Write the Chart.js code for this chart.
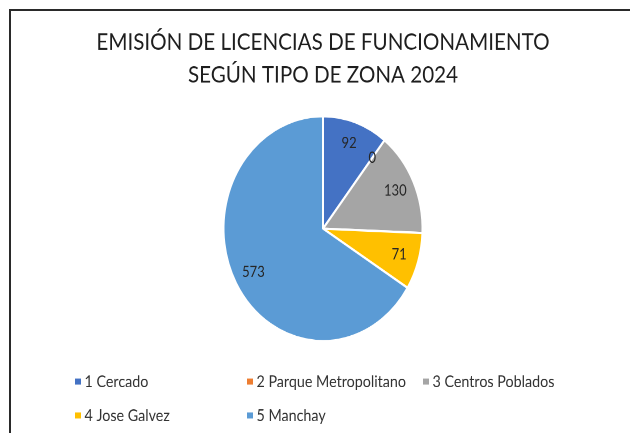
<!DOCTYPE html>
<html>
<head>
<meta charset="utf-8">
<script src="https://cdn.jsdelivr.net/npm/chart.js@4/dist/chart.umd.min.js"></script>
<style>
  html, body { margin: 0; padding: 0; background: #ffffff; width: 630px; height: 433px; overflow: hidden; }
  #frame { position: absolute; left: 9px; top: 9px; width: 640px; height: 440px;
           border-left: 2px solid #2a2a2a; border-top: 2px solid #2a2a2a; }
  #wrap { position: absolute; left: 0; top: 0; width: 630px; height: 383px;
          transform: scaleY(1.1305); transform-origin: 0 0; }
</style>
</head>
<body>
<div id="frame"></div>
<div id="wrap"><canvas id="c" width="630" height="383"></canvas></div>
<script>
const titleLines = ['EMISIÓN DE LICENCIAS DE FUNCIONAMIENTO', 'SEGÚN TIPO DE ZONA 2024'];
const categories = ['1 Cercado', '2 Parque Metropolitano', '3 Centros Poblados', '4 Jose Galvez', '5 Manchay'];
const values = [92, 0, 130, 71, 573];
const colors = ['#4472C4', '#ED7D31', '#A5A5A5', '#FFC000', '#5B9BD5'];

const FONT = 'Lato, "Open Sans", sans-serif';

const valueLabels = {
  id: 'valueLabels',
  afterDatasetsDraw(chart) {
    const ctx = chart.ctx;
    const meta = chart.getDatasetMeta(0);
    ctx.save();
    ctx.font = '13px ' + FONT;
    ctx.fillStyle = '#262626';
    ctx.textAlign = 'center';
    ctx.textBaseline = 'middle';
    meta.data.forEach((arc, i) => {
      const p = arc.getProps(['x', 'y', 'startAngle', 'endAngle', 'outerRadius'], true);
      const mid = (p.startAngle + p.endAngle) / 2;
      const r = p.outerRadius * 0.8;
      ctx.fillText(String(chart.data.datasets[0].data[i]), p.x + Math.cos(mid) * r, p.y + Math.sin(mid) * r);
    });
    ctx.restore();
  }
};

const gridLegend = {
  id: 'gridLegend',
  afterDraw(chart) {
    const ctx = chart.ctx;
    const cols = [75, 247, 423];
    const rows = [337.5, 367.5];
    ctx.save();
    ctx.font = '14.3px ' + FONT;
    ctx.textBaseline = 'middle';
    ctx.textAlign = 'left';
    chart.data.labels.forEach((lab, i) => {
      const x = cols[i % 3];
      const y = rows[Math.floor(i / 3)];
      ctx.fillStyle = chart.data.datasets[0].backgroundColor[i];
      ctx.fillRect(x, y - 2.7, 6, 5.4);
      ctx.fillStyle = '#333333';
      ctx.fillText(lab, x + 9.5, y + 0.5);
    });
    ctx.restore();
  }
};

new Chart(document.getElementById('c'), {
  type: 'pie',
  data: {
    labels: categories,
    datasets: [{
      data: values,
      backgroundColor: colors,
      borderColor: '#ffffff',
      borderWidth: 2
    }]
  },
  options: {
    responsive: false,
    devicePixelRatio: 2,
    animation: false,
    radius: 99.5,
    layout: { padding: { left: 16, right: 0, top: 0, bottom: 80.6 } },
    plugins: {
      legend: { display: false },
      tooltip: { enabled: false },
      title: {
        display: true,
        text: titleLines,
        color: '#1e1e1e',
        font: { family: FONT, size: 20.6, weight: 'normal', lineHeight: 29 / 20.6 },
        padding: { top: 22.7, bottom: 21.3 }
      }
    }
  },
  plugins: [valueLabels, gridLegend]
});
</script>
</body>
</html>
